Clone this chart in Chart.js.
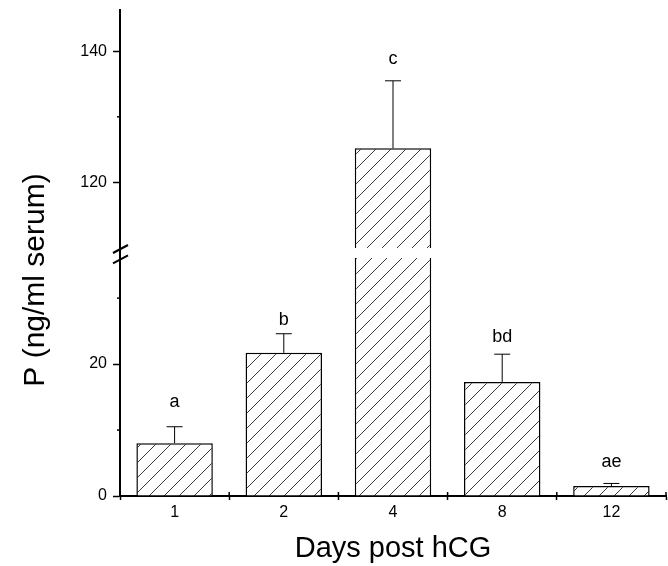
<!DOCTYPE html>
<html><head><meta charset="utf-8">
<script src="https://cdn.jsdelivr.net/npm/chart.js@4.4.0/dist/chart.umd.min.js"></script>
<style>html,body{margin:0;padding:0;background:#fff;}#wrap{width:668px;height:566px;position:relative;}</style>
</head><body><div id="wrap"><canvas id="c"></canvas></div>
<script>
// ---- data ----
const days = ['1', '2', '4', '8', '12'];
const meanP = [8.0, 21.7, 125.2, 17.3, 1.5];
const errP = [2.5, 2.9, 10.3, 4.2, 0.4];
const groupLetters = ['a', 'b', 'c', 'bd', 'ae'];
const letterAt = [13.5, 25.9, 138.0, 23.4, 4.4];
const lowerLabelled = [0, 20];
const upperLabelled = [120, 140];
const lowerRange = [0, 36.1];     // visible lower segment of broken axis
const lowerAxisMax = 37.6;        // lower segment incl. break gap
const upperRange = [110, 146.3];  // upper segment

// ---- hatch pattern ----
function hatch() {
  const s = 15, c = document.createElement('canvas');
  c.width = s; c.height = s;
  const g = c.getContext('2d');
  g.fillStyle = '#fff'; g.fillRect(0, 0, s, s);
  g.strokeStyle = '#3a3a3a'; g.lineWidth = 1;
  g.beginPath();
  g.moveTo(-2, s + 2); g.lineTo(s + 2, -2);
  g.moveTo(-2, 2); g.lineTo(2, -2);
  g.moveTo(s - 2, s + 2); g.lineTo(s + 2, s - 2);
  g.stroke();
  return g.createPattern(c, 'repeat');
}
const pat = hatch();
const isBroken = v => v > lowerRange[1];

const extras = {
  id: 'extras',
  afterDatasetsDraw(chart) {
    const ctx = chart.ctx, x = chart.scales.x, yl = chart.scales.y, yu = chart.scales.y2;
    ctx.save();
    ctx.strokeStyle = '#000'; ctx.lineWidth = 1;
    meanP.forEach((v, i) => {
      const top = v + errP[i];
      const sc = isBroken(v) ? yu : yl;
      const px = x.getPixelForValue(i);
      const y0 = sc.getPixelForValue(v), y1 = sc.getPixelForValue(top);
      ctx.beginPath();
      ctx.moveTo(px, y0); ctx.lineTo(px, y1);
      ctx.moveTo(px - 8, y1); ctx.lineTo(px + 8, y1);
      ctx.stroke();
      const lsc = isBroken(letterAt[i]) ? yu : yl;
      ctx.fillStyle = '#000';
      ctx.font = "18px 'Liberation Sans', Arial, sans-serif";
      ctx.textAlign = 'center'; ctx.textBaseline = 'alphabetic';
      ctx.fillText(groupLetters[i], px, lsc.getPixelForValue(letterAt[i]));
    });
    ctx.restore();
  },
  afterDraw(chart) {
    const ctx = chart.ctx, x = chart.scales.x, yl = chart.scales.y, yu = chart.scales.y2;
    const ax = chart.chartArea.left;
    ctx.save();
    ctx.strokeStyle = '#000';
    // minor ticks on y
    ctx.lineWidth = 1.5;
    [[yl, lowerLabelled], [yu, upperLabelled]].forEach(([sc, lab]) => {
      sc.ticks.forEach(t => {
        if (!lab.includes(t.value)) {
          const py = sc.getPixelForValue(t.value);
          ctx.beginPath(); ctx.moveTo(ax - 3, py); ctx.lineTo(ax, py); ctx.stroke();
        }
      });
    });
    // upward part of x ticks
    const n = days.length;
    const half = (x.getPixelForValue(1) - x.getPixelForValue(0)) / 2;
    const yb = chart.chartArea.bottom;
    for (let i = 0; i <= n; i++) {
      const px = i < n ? x.getPixelForValue(i) - half : x.getPixelForValue(n - 1) + half;
      ctx.beginPath(); ctx.moveTo(px, yb); ctx.lineTo(px, yb - 4); ctx.stroke();
    }
    // break marks
    const yA = yu.getPixelForValue(upperRange[0]) + 1;
    const yB = yl.getPixelForValue(lowerRange[1]) + 1.5;
    ctx.lineWidth = 2;
    [yA, yB].forEach(py => {
      ctx.beginPath(); ctx.moveTo(ax - 7, py + 4); ctx.lineTo(ax + 8, py - 4); ctx.stroke();
    });
    ctx.restore();
  }
};

const FONT = "'Liberation Sans', Arial, sans-serif";
Chart.defaults.font.family = FONT;
Chart.defaults.color = '#000';

const fitY = s => { s.width = 58; s.paddingTop = 0; s.paddingBottom = 0; };

new Chart(document.getElementById('c'), {
  type: 'bar',
  data: {
    labels: days,
    datasets: [
      {
        data: meanP.map(v => isBroken(v) ? [lowerRange[0], lowerRange[1]] : v),
        yAxisID: 'y',
        backgroundColor: pat, borderColor: '#000',
        borderWidth: c => isBroken(meanP[c.dataIndex]) ? { left: 1.5, right: 1.5, top: 0, bottom: 0 } : 1.5,
        borderSkipped: c => isBroken(meanP[c.dataIndex]) ? false : 'start',
        grouped: false, barPercentage: 0.7, categoryPercentage: 1
      },
      {
        data: meanP.map(v => isBroken(v) ? [upperRange[0], v] : null),
        yAxisID: 'y2',
        backgroundColor: pat, borderColor: '#000', borderWidth: 1.5,
        borderSkipped: 'bottom',
        grouped: false, barPercentage: 0.7, categoryPercentage: 1
      }
    ]
  },
  options: {
    responsive: true, maintainAspectRatio: false, animation: false,
    layout: { padding: { top: 10, right: 2, bottom: 16, left: 0 } },
    plugins: {
      legend: { display: false }, tooltip: { enabled: false },
      title: {
        display: true, position: 'left', text: 'P (ng/ml serum)', color: '#000',
        font: { size: 30, weight: 'normal', family: FONT }, padding: { top: 18, bottom: 8 }
      }
    },
    scales: {
      x: {
        offset: true,
        grid: { offset: true, drawOnChartArea: false, tickLength: 4, tickWidth: 1.5, tickColor: '#000' },
        border: { color: '#000', width: 2 },
        ticks: { font: { size: 16 }, padding: 3, color: '#000' },
        title: { display: true, text: 'Days post hCG', font: { size: 29 }, padding: { top: 0, bottom: -16 }, color: '#000' },
        afterFit: s => { s.height = 54; }
      },
      y: {
        position: 'left', stack: 'brk', stackWeight: 248,
        min: lowerRange[0], max: lowerAxisMax,
        grid: { drawOnChartArea: false, tickLength: 7, tickWidth: 1.5,
                tickColor: c => lowerLabelled.includes(c.tick && c.tick.value) ? '#000' : 'rgba(0,0,0,0)' },
        border: { color: '#000', width: 2 },
        ticks: { stepSize: 10, includeBounds: false, font: { size: 16 }, padding: 6, color: '#000',
                 callback: v => lowerLabelled.includes(v) ? String(v) : '' },
        afterFit: fitY
      },
      y2: {
        position: 'left', stack: 'brk', stackWeight: 238,
        min: upperRange[0], max: upperRange[1],
        grid: { drawOnChartArea: false, tickLength: 7, tickWidth: 1.5,
                tickColor: c => upperLabelled.includes(c.tick && c.tick.value) ? '#000' : 'rgba(0,0,0,0)' },
        border: { color: '#000', width: 2 },
        ticks: { stepSize: 10, includeBounds: false, font: { size: 16 }, padding: 6, color: '#000',
                 callback: v => upperLabelled.includes(v) ? String(v) : '' },
        afterBuildTicks: s => { s.ticks = s.ticks.filter(t => t.value > upperRange[0]); },
        afterFit: fitY
      }
    }
  },
  plugins: [extras]
});
</script></body></html>
